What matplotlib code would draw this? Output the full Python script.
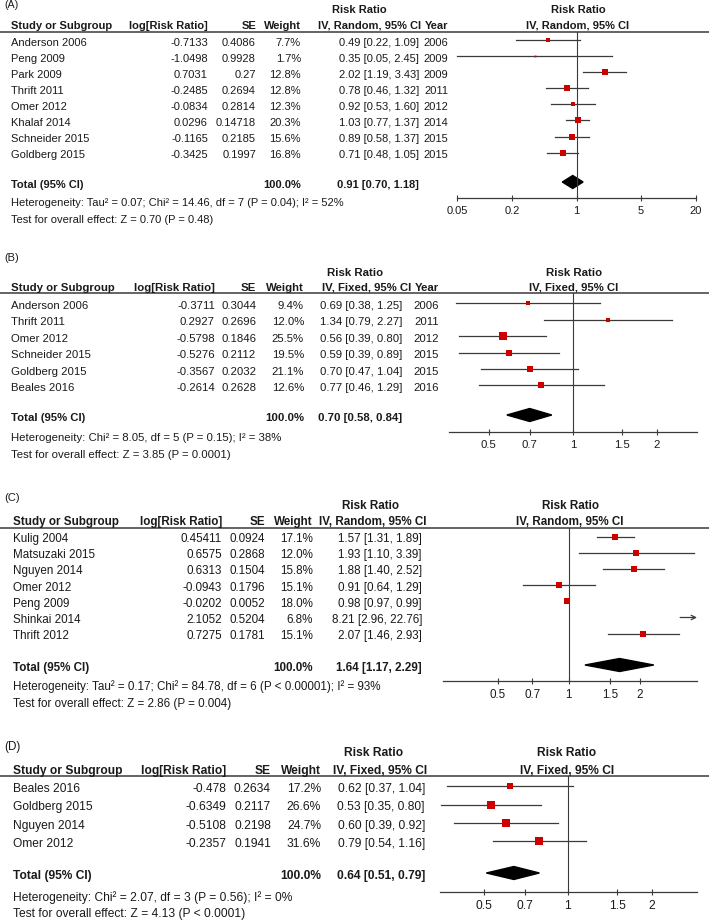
import matplotlib
matplotlib.use("Agg")
import matplotlib.pyplot as plt
from matplotlib.lines import Line2D
from matplotlib.patches import Polygon
from matplotlib.ticker import NullLocator
import numpy as np

plt.rcParams["font.family"] = ["Liberation Sans", "DejaVu Sans"]

# ---- data ----
studies_a = ["Anderson 2006", "Peng 2009", "Park 2009", "Thrift 2011", "Omer 2012",
             "Khalaf 2014", "Schneider 2015", "Goldberg 2015"]
logrr_a = [-0.7133, -1.0498, 0.7031, -0.2485, -0.0834, 0.0296, -0.1165, -0.3425]
se_a = [0.4086, 0.9928, 0.27, 0.2694, 0.2814, 0.14718, 0.2185, 0.1997]
weight_a = [7.7, 1.7, 12.8, 12.8, 12.3, 20.3, 15.6, 16.8]
rr_a = [0.49, 0.35, 2.02, 0.78, 0.92, 1.03, 0.89, 0.71]
lo_a = [0.22, 0.05, 1.19, 0.46, 0.53, 0.77, 0.58, 0.48]
hi_a = [1.09, 2.45, 3.43, 1.32, 1.60, 1.37, 1.37, 1.05]
year_a = [2006, 2009, 2009, 2011, 2012, 2014, 2015, 2015]
total_a = (0.91, 0.70, 1.18)
ticks_a = [0.05, 0.2, 1, 5, 20]
het_a = "Heterogeneity: Tau² = 0.07; Chi² = 14.46, df = 7 (P = 0.04); I² = 52%"
test_a = "Test for overall effect: Z = 0.70 (P = 0.48)"

studies_b = ["Anderson 2006", "Thrift 2011", "Omer 2012", "Schneider 2015",
             "Goldberg 2015", "Beales 2016"]
logrr_b = [-0.3711, 0.2927, -0.5798, -0.5276, -0.3567, -0.2614]
se_b = [0.3044, 0.2696, 0.1846, 0.2112, 0.2032, 0.2628]
weight_b = [9.4, 12.0, 25.5, 19.5, 21.1, 12.6]
rr_b = [0.69, 1.34, 0.56, 0.59, 0.70, 0.77]
lo_b = [0.38, 0.79, 0.39, 0.39, 0.47, 0.46]
hi_b = [1.25, 2.27, 0.80, 0.89, 1.04, 1.29]
year_b = [2006, 2011, 2012, 2015, 2015, 2016]
total_b = (0.70, 0.58, 0.84)
ticks_b = [0.5, 0.7, 1, 1.5, 2]
het_b = "Heterogeneity: Chi² = 8.05, df = 5 (P = 0.15); I² = 38%"
test_b = "Test for overall effect: Z = 3.85 (P = 0.0001)"

studies_c = ["Kulig 2004", "Matsuzaki 2015", "Nguyen 2014", "Omer 2012", "Peng 2009",
             "Shinkai 2014", "Thrift 2012"]
logrr_c = [0.45411, 0.6575, 0.6313, -0.0943, -0.0202, 2.1052, 0.7275]
se_c = [0.0924, 0.2868, 0.1504, 0.1796, 0.0052, 0.5204, 0.1781]
weight_c = [17.1, 12.0, 15.8, 15.1, 18.0, 6.8, 15.1]
rr_c = [1.57, 1.93, 1.88, 0.91, 0.98, 8.21, 2.07]
lo_c = [1.31, 1.10, 1.40, 0.64, 0.97, 2.96, 1.46]
hi_c = [1.89, 3.39, 2.52, 1.29, 0.99, 22.76, 2.93]
total_c = (1.64, 1.17, 2.29)
ticks_c = [0.5, 0.7, 1, 1.5, 2]
het_c = "Heterogeneity: Tau² = 0.17; Chi² = 84.78, df = 6 (P < 0.00001); I² = 93%"
test_c = "Test for overall effect: Z = 2.86 (P = 0.004)"

studies_d = ["Beales 2016", "Goldberg 2015", "Nguyen 2014", "Omer 2012"]
logrr_d = [-0.478, -0.6349, -0.5108, -0.2357]
se_d = [0.2634, 0.2117, 0.2198, 0.1941]
weight_d = [17.2, 26.6, 24.7, 31.6]
rr_d = [0.62, 0.53, 0.60, 0.79]
lo_d = [0.37, 0.35, 0.39, 0.54]
hi_d = [1.04, 0.80, 0.92, 1.16]
total_d = (0.64, 0.51, 0.79)
ticks_d = [0.5, 0.7, 1, 1.5, 2]
het_d = "Heterogeneity: Chi² = 2.07, df = 3 (P = 0.56); I² = 0%"
test_d = "Test for overall effect: Z = 4.13 (P < 0.0001)"

# ---- layout (pixels, y from top) ----
W, H = 709, 922
TXT = "#1a1a1a"
RED = "#cc0000"
LINE = "#3a3a3a"

layout_a = dict(label="(A)", model="IV, Random, 95% CI", size=8.0,
                lab_y=5, rr_y=10, hdr_y=26, line_y=32, row0=42.5, dy=16.1,
                tot_y=185, het_y=203, test_y=220, axis_y=198,
                x0=457, x1=696, xlim=(0.05, 20),
                name_x=11, log_r=208, se_r=256, w_r=301, ci_r=419, cihdr_r=421,
                year_r=448, rr_cx=359, plot_cx=578)
layout_b = dict(label="(B)", model="IV, Fixed, 95% CI", size=8.2,
                lab_y=258, rr_y=273, hdr_y=288, line_y=293, row0=306, dy=16.4,
                tot_y=418, het_y=438, test_y=455, axis_y=432,
                x0=449, x1=697, xlim=(0.36, 2.78),
                name_x=11, log_r=215, se_r=256, w_r=304, ci_r=402, cihdr_r=411,
                year_r=439, rr_cx=355, plot_cx=574)
layout_c = dict(label="(C)", model="IV, Random, 95% CI", size=8.35,
                lab_y=498, rr_y=506, hdr_y=522, line_y=528, row0=539, dy=16.2,
                tot_y=668, het_y=687, test_y=704, axis_y=681,
                x0=443, x1=697, xlim=(0.293, 3.49),
                name_x=13, log_r=222, se_r=265, w_r=313, ci_r=422, cihdr_r=427,
                year_r=None, rr_cx=370, plot_cx=570)
layout_d = dict(label="(D)", model="IV, Fixed, 95% CI", size=8.65,
                lab_y=747, rr_y=753, hdr_y=771, line_y=776, row0=789, dy=18.3,
                tot_y=876, het_y=898, test_y=914, axis_y=892,
                x0=440, x1=697, xlim=(0.348, 2.9),
                name_x=13, log_r=226, se_r=271, w_r=321, ci_r=425, cihdr_r=427,
                year_r=None, rr_cx=374, plot_cx=567)

fig = plt.figure(figsize=(W / 100, H / 100), dpi=100)


def fx(x):
    return x / W


def fy(y):
    return 1 - y / H


def put(x, y, s, size, ha="left", bold=False):
    fig.text(fx(x), fy(y), s, ha=ha, va="center", fontsize=size,
             fontweight="bold" if bold else "normal", color=TXT)


def draw_panel(L, studies, logrr, se, weight, rr, lo, hi, years, total, ticks, het, test):
    s = L["size"]
    put(4, L["lab_y"], L["label"], s - 0.3)
    put(L["rr_cx"], L["rr_y"], "Risk Ratio", s, ha="center", bold=True)
    put(L["plot_cx"], L["rr_y"], "Risk Ratio", s, ha="center", bold=True)
    put(L["name_x"], L["hdr_y"], "Study or Subgroup", s, bold=True)
    put(L["log_r"], L["hdr_y"], "log[Risk Ratio]", s, ha="right", bold=True)
    put(L["se_r"], L["hdr_y"], "SE", s, ha="right", bold=True)
    put(L["w_r"], L["hdr_y"], "Weight", s, ha="right", bold=True)
    put(L["cihdr_r"], L["hdr_y"], L["model"], s, ha="right", bold=True)
    if L["year_r"] is not None:
        put(L["year_r"], L["hdr_y"], "Year", s, ha="right", bold=True)
    put(L["plot_cx"], L["hdr_y"], L["model"], s, ha="center", bold=True)
    fig.add_artist(Line2D([0, 1], [fy(L["line_y"])] * 2, transform=fig.transFigure,
                          color=LINE, lw=1.1))

    ys = L["row0"] + L["dy"] * np.arange(len(studies))
    for i, name in enumerate(studies):
        y = ys[i]
        put(L["name_x"], y, name, s)
        put(L["log_r"], y, str(logrr[i]), s, ha="right")
        put(L["se_r"], y, str(se[i]), s, ha="right")
        put(L["w_r"], y, f"{weight[i]:.1f}%", s, ha="right")
        put(L["ci_r"], y, f"{rr[i]:.2f} [{lo[i]:.2f}, {hi[i]:.2f}]", s, ha="right")
        if years is not None:
            put(L["year_r"], y, str(years[i]), s, ha="right")

    put(L["name_x"], L["tot_y"], "Total (95% CI)", s, bold=True)
    put(L["w_r"], L["tot_y"], "100.0%", s, ha="right", bold=True)
    put(L["ci_r"], L["tot_y"], f"{total[0]:.2f} [{total[1]:.2f}, {total[2]:.2f}]", s,
        ha="right", bold=True)
    put(L["name_x"], L["het_y"], het, s)
    put(L["name_x"], L["test_y"], test, s)

    # forest plot axes
    ax = fig.add_axes([fx(L["x0"]), fy(L["axis_y"]), (L["x1"] - L["x0"]) / W,
                       (L["axis_y"] - L["line_y"]) / H])
    ax.set_xscale("log")
    xmin, xmax = L["xlim"]
    ax.set_xlim(xmin, xmax)
    ax.set_ylim(L["axis_y"], L["line_y"])
    ax.patch.set_alpha(0)
    for sp in ["left", "right", "top"]:
        ax.spines[sp].set_visible(False)
    ax.spines["bottom"].set_color(LINE)
    ax.spines["bottom"].set_linewidth(0.9)
    ax.set_yticks([])
    ax.set_xticks(ticks)
    ax.set_xticklabels([f"{t:g}" for t in ticks])
    ax.xaxis.set_minor_locator(NullLocator())
    ax.tick_params(axis="x", direction="inout", length=4.8, width=0.8, pad=3,
                   labelsize=s, colors=LINE, labelcolor=TXT)
    ax.axvline(1, color=LINE, lw=0.8)

    ky = 2.5
    for i in range(len(studies)):
        y = ys[i] - ky
        if hi[i] > xmax:
            ax.annotate("", xy=(xmax, y), xytext=(lo[i], y),
                        arrowprops=dict(arrowstyle="->", color=LINE, lw=0.9,
                                        shrinkA=0, shrinkB=0, mutation_scale=8),
                        annotation_clip=False)
        else:
            ax.plot([lo[i], hi[i]], [y, y], color=LINE, lw=0.9, clip_on=False)
        if xmin <= rr[i] <= xmax:
            side = 1.4 * np.sqrt(weight[i]) * (s / 8.0)
            ax.plot([rr[i]], [y], marker="s", ms=side * 0.72, color=RED, mec=RED,
                    mew=0, clip_on=False)

    est, tlo, thi = total
    ty = L["tot_y"] - 3
    hh = 6.5
    ax.add_patch(Polygon([(tlo, ty), (est, ty - hh), (thi, ty), (est, ty + hh)],
                         closed=True, color="black", clip_on=False))


draw_panel(layout_a, studies_a, logrr_a, se_a, weight_a, rr_a, lo_a, hi_a, year_a,
           total_a, ticks_a, het_a, test_a)
draw_panel(layout_b, studies_b, logrr_b, se_b, weight_b, rr_b, lo_b, hi_b, year_b,
           total_b, ticks_b, het_b, test_b)
draw_panel(layout_c, studies_c, logrr_c, se_c, weight_c, rr_c, lo_c, hi_c, None,
           total_c, ticks_c, het_c, test_c)
draw_panel(layout_d, studies_d, logrr_d, se_d, weight_d, rr_d, lo_d, hi_d, None,
           total_d, ticks_d, het_d, test_d)

fig.savefig("out.png", dpi=100)
